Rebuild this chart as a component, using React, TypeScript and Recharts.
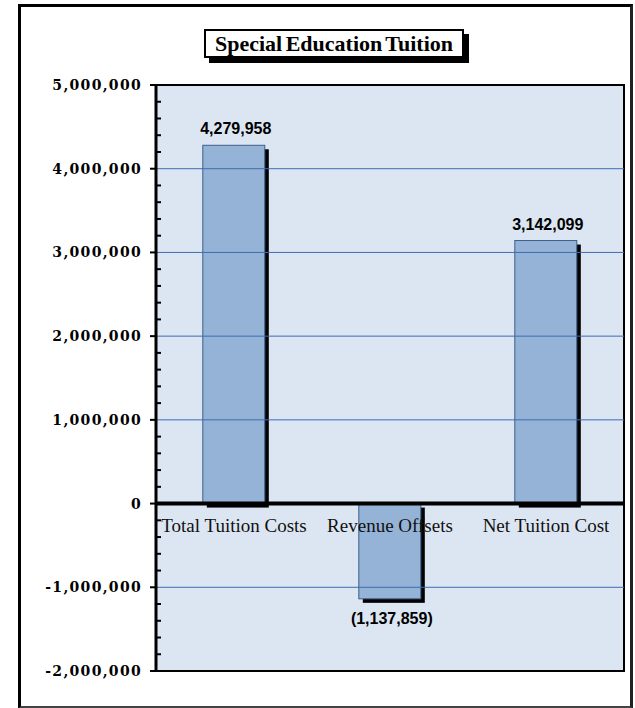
import React from "react";
import {
  BarChart,
  Bar,
  XAxis,
  YAxis,
  CartesianGrid,
  ReferenceLine,
  ReferenceDot,
  ReferenceArea,
  LabelList,
} from "recharts";

const categories = ["Total Tuition Costs", "Revenue Offsets", "Net Tuition Cost"];
const values = [4279958, -1137859, 3142099];
const yMajorTicks = [-2000000, -1000000, 0, 1000000, 2000000, 3000000, 4000000, 5000000];
const yMinorStep = 200000;
const gridValues = [-1000000, 1000000, 2000000, 3000000, 4000000];
const title = "Special Education Tuition";

const data = categories.map((c, i) => ({ name: c, value: values[i] }));
const yMin = yMajorTicks[0];
const yMax = yMajorTicks[yMajorTicks.length - 1];
const allTicks: number[] = [];
for (let v = yMin; v <= yMax; v += yMinorStep) allTicks.push(v);

const fmtAxis = (v: number) => v.toLocaleString("en-US");
const fmtLabel = (v: number) =>
  v < 0 ? `(${Math.abs(v).toLocaleString("en-US")})` : v.toLocaleString("en-US");

const YTick = (props: any) => {
  const { x, y, payload } = props;
  const v = payload.value as number;
  const major = v % 1000000 === 0;
  if (major) {
    return (
      <g>
        <line x1={x - 6} x2={x} y1={y} y2={y} stroke="#000" strokeWidth={2} />
        <text
          x={x - 14}
          y={y}
          dy={5}
          textAnchor="end"
          fontFamily="'DejaVu Serif', serif"
          fontWeight="bold"
          fontSize={14}
          letterSpacing={1.3}
          fill="#000"
        >
          {fmtAxis(v)}
        </text>
      </g>
    );
  }
  return <line x1={x} x2={x + 5} y1={y} y2={y} stroke="#000" strokeWidth={2} />;
};

const BarShape = (props: any) => {
  const { x, y, width, height } = props;
  const top = Math.min(y, y + height);
  const h = Math.abs(height);
  return (
    <g>
      <rect x={x + 4} y={top + 4} width={width} height={h} fill="#000" />
      <rect x={x} y={top} width={width} height={h} fill="#95b3d7" stroke="#3a5f8c" strokeWidth={1} />
    </g>
  );
};

const ValueLabel = (props: any) => {
  const { x, y, width, height, value } = props;
  const top = Math.min(y, y + height);
  const bottom = Math.max(y, y + height);
  const neg = value < 0;
  return (
    <text
      x={x + width / 2 + 2}
      y={neg ? bottom + 25 : top - 11}
      textAnchor="middle"
      fontFamily="'Liberation Sans', Arial, sans-serif"
      fontWeight="bold"
      fontSize={16}
      fill="#000"
    >
      {fmtLabel(value)}
    </text>
  );
};

const CatLabel = (name: string) => (props: any) => {
  const vb = props.viewBox || {};
  return (
    <text
      x={vb.x}
      y={vb.y + 28}
      textAnchor="middle"
      fontFamily="'Liberation Serif', serif"
      fontSize={19}
      fill="#111"
    >
      {name}
    </text>
  );
};

export default function App() {
  return (
    <div style={{ position: "absolute", left: 0, top: 0, width: 635, height: 708, background: "#fff" }}>
      <div
        style={{
          position: "absolute",
          left: 18,
          top: 4,
          width: 609,
          height: 699,
          borderLeft: "3px solid #000",
          borderTop: "3px solid #000",
          borderRight: "3px solid #222",
          borderBottom: "3px solid #444",
        }}
      />
      <BarChart
        width={635}
        height={708}
        data={data}
        margin={{ top: 85, right: 11, bottom: 37, left: 0 }}
        barCategoryGap="30%"
        style={{ position: "absolute", left: 0, top: 0 }}
      >
        <CartesianGrid fill="#dce6f2" horizontal={false} vertical={false} />
        {gridValues.map((g) => (
          <ReferenceLine key={g} y={g} stroke="#3d6cb0" strokeWidth={1} />
        ))}
        <XAxis dataKey="name" hide />
        <YAxis
          type="number"
          domain={[yMin, yMax]}
          ticks={allTicks}
          interval={0}
          width={156}
          tickSize={0}
          tickMargin={0}
          tickLine={false}
          axisLine={{ stroke: "#000", strokeWidth: 3 }}
          tick={<YTick />}
        />
        <ReferenceArea
          y1={yMin}
          y2={yMax}
          fill="none"
          stroke="#000"
          strokeWidth={2}
        />
        <Bar dataKey="value" isAnimationActive={false} shape={<BarShape />}>
          <LabelList dataKey="value" content={<ValueLabel />} />
        </Bar>
        <ReferenceLine y={0} stroke="#000" strokeWidth={4} />
        {categories.map((c) => (
          <ReferenceDot key={c} x={c} y={0} r={0} fill="none" stroke="none" label={CatLabel(c)} />
        ))}
      </BarChart>
      <div
        style={{
          position: "absolute",
          left: 204,
          top: 29,
          width: 256,
          height: 25,
          border: "2px solid #000",
          boxShadow: "5px 5px 0 #000",
          background: "#fff",
          fontFamily: "'Liberation Serif', serif",
          fontWeight: "bold",
          fontSize: 22,
          lineHeight: "25px",
          textAlign: "center",
          whiteSpace: "nowrap",
          wordSpacing: -2,
        }}
      >
        {title}
      </div>
    </div>
  );
}
